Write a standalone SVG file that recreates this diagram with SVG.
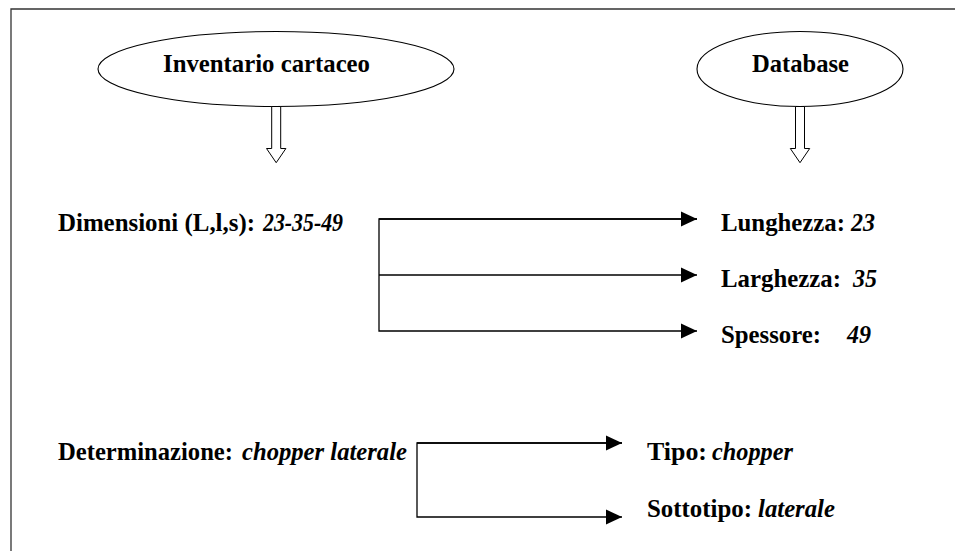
<svg xmlns="http://www.w3.org/2000/svg" width="955" height="551" viewBox="0 0 955 551">
<defs>
<style>
.t{font-family:"Liberation Serif","Times New Roman",serif;font-size:24.5px;font-weight:bold;fill:#000}
.i{font-style:italic}
.ln{fill:none;stroke:#000;stroke-width:1.3}
.el{fill:#fff;stroke:#000;stroke-width:1.1}
.blk{fill:#fff;stroke:#000;stroke-width:1}
</style>
<marker id="ah" markerUnits="userSpaceOnUse" markerWidth="16" markerHeight="16" viewBox="0 0 15 14" refX="15" refY="7" orient="auto">
<path d="M0,0 L15,7 L0,14 Z" fill="#000"/>
</marker>
</defs>
<rect width="955" height="551" fill="#fff"/>
<path d="M11,551 V9 H955" fill="none" stroke="#333" stroke-width="1.3"/>
<g id="node-inventario">
<ellipse class="el" cx="276" cy="69" rx="178" ry="37.5"/>
<text class="t" x="163" y="71.5" textLength="207" lengthAdjust="spacingAndGlyphs">Inventario cartaceo</text>
</g>
<g id="node-database">
<ellipse class="el" cx="800" cy="69" rx="103" ry="37.5"/>
<text class="t" x="752" y="71.5" textLength="97" lengthAdjust="spacingAndGlyphs">Database</text>
</g>
<g id="node-dimensioni">
<text class="t" y="231"><tspan x="58" textLength="197" lengthAdjust="spacingAndGlyphs">Dimensioni (L,l,s):</tspan><tspan class="i" x="263" textLength="80" lengthAdjust="spacingAndGlyphs">23-35-49</tspan></text>
</g>
<g id="node-lunghezza">
<text class="t" y="231"><tspan x="721" textLength="124" lengthAdjust="spacingAndGlyphs">Lunghezza:</tspan><tspan class="i" x="851" textLength="24" lengthAdjust="spacingAndGlyphs">23</tspan></text>
</g>
<g id="node-larghezza">
<text class="t" y="287"><tspan x="721" textLength="120" lengthAdjust="spacingAndGlyphs">Larghezza:</tspan><tspan class="i" x="853" textLength="24" lengthAdjust="spacingAndGlyphs">35</tspan></text>
</g>
<g id="node-spessore">
<text class="t" y="343"><tspan x="721" textLength="100" lengthAdjust="spacingAndGlyphs">Spessore:</tspan><tspan class="i" x="847" textLength="24" lengthAdjust="spacingAndGlyphs">49</tspan></text>
</g>
<g id="node-determinazione">
<text class="t" y="460"><tspan x="58" textLength="175" lengthAdjust="spacingAndGlyphs">Determinazione:</tspan><tspan class="i" x="242" textLength="165" lengthAdjust="spacingAndGlyphs">chopper laterale</tspan></text>
</g>
<g id="node-tipo">
<text class="t" y="460"><tspan x="647" textLength="60" lengthAdjust="spacingAndGlyphs">Tipo:</tspan><tspan class="i" x="712" textLength="81" lengthAdjust="spacingAndGlyphs">chopper</tspan></text>
</g>
<g id="node-sottotipo">
<text class="t" y="517"><tspan x="647" textLength="105" lengthAdjust="spacingAndGlyphs">Sottotipo:</tspan><tspan class="i" x="758" textLength="77" lengthAdjust="spacingAndGlyphs">laterale</tspan></text>
</g>
<g id="connectors">
<path class="blk" d="M271.7,106.5 V148.5 H266.5 L276.2,162.7 L285.9,148.5 H280.7 V106.5 Z"/>
<path class="blk" d="M795.5,106.5 V148.5 H790.3 L800,162.7 L809.7,148.5 H804.5 V106.5 Z"/>
<path class="ln" d="M697,219 H379 V331 H697" marker-end="url(#ah)"/>
<line class="ln" x1="379" y1="219" x2="697" y2="219" marker-end="url(#ah)"/>
<line class="ln" x1="379" y1="275" x2="697" y2="275" marker-end="url(#ah)"/>
<path class="ln" d="M622,443 H417 V517 H622" marker-end="url(#ah)"/>
<line class="ln" x1="417" y1="443" x2="622" y2="443" marker-end="url(#ah)"/>
</g>
</svg>
